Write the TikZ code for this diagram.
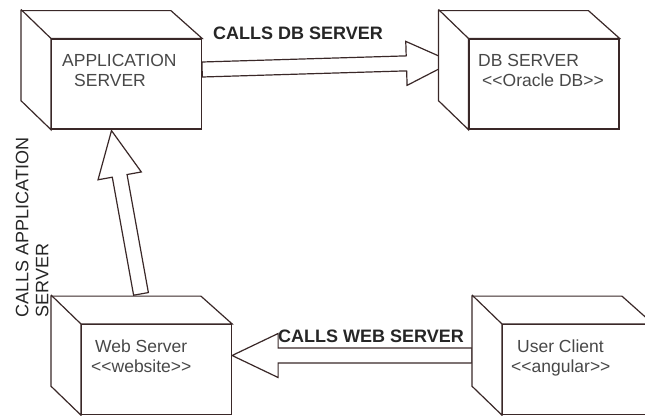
\documentclass[tikz,border=0pt]{standalone}
\usepackage{fontspec}
\setmainfont{Liberation Sans}
\usetikzlibrary{calc}

\definecolor{edgecol}{RGB}{58,40,40}
\definecolor{servertext}{RGB}{72,72,72}
\definecolor{calltext}{RGB}{38,38,38}

\pgfdeclarelayer{background}
\pgfsetlayers{background,main}

\tikzset{
	boxface/.style={draw=edgecol, fill=white, line width=1.2pt, minimum width=150pt, minimum height=90pt, inner sep=0pt},
	boxside/.style={draw=edgecol, fill=white, line width=1.2pt, line join=miter},
	srvtext/.style={text=servertext, inner sep=0pt, anchor=base west, font=\fontsize{17.5}{20}\selectfont},
	callname/.style={text=calltext, inner sep=0pt, anchor=base west, font=\fontsize{18}{20}\selectfont\bfseries},
	callshape/.style={draw=edgecol, fill=white, line width=1.2pt, line join=miter},
}

% hollow block arrow from #1 to #2
\newcommand{\callarrow}[2]{%
	\coordinate (s) at (#1);
	\coordinate (t) at (#2);
	\coordinate (h) at ($(t)!46pt!(s)$);
	\filldraw[callshape] ($(s)!7.5pt!90:(t)$) -- ($(h)!7.5pt!90:(t)$) -- ($(h)!22pt!90:(t)$) -- (t)
		-- ($(h)!22pt!-90:(t)$) -- ($(h)!7.5pt!-90:(t)$) -- ($(s)!7.5pt!-90:(t)$) -- cycle;
}
% top and left side of a server box
\newcommand{\serverback}[1]{%
	\filldraw[boxside] (#1.south west) -- ++(-30,-29) -- ++(0,-90) -- ++(150,0) -- (#1.north east) -- (#1.north west) -- cycle;
	\draw[boxside] (#1.north west) ++(-30,-29) -- (#1.north west);
}

\begin{document}
\begin{tikzpicture}[x=1pt, y=-1pt]
		\useasboundingbox (0,0) rectangle (645,415);

		\node[boxface] (app) at (126.5,84) {};
		\node[boxface] (db) at (544,84) {};
		\node[boxface] (web) at (156.5,369.5) {};
		\node[boxface] (user) at (577.5,369.5) {};
		\serverback{app}
		\serverback{db}
		\serverback{web}
		\serverback{user}

		\node[srvtext] (apptitle) at (62,66.5) {APPLICATION};
		\node[srvtext] (appkind) at (74,86.5) {SERVER};
		\node[srvtext] (dbtitle) at (478,66.5) {DB SERVER};
		\node[srvtext] (dbkind) at (482,86.5) {<\kern0pt<Oracle DB>\kern0pt>};
		\node[srvtext] (webtitle) at (95,352) {Web Server};
		\node[srvtext] (webkind) at (91,372) {<\kern0pt<website>\kern0pt>};
		\node[srvtext] (usertitle) at (517,352) {User Client};
		\node[srvtext] (userkind) at (511,372) {<\kern0pt<angular>\kern0pt>};

		\begin{pgfonlayer}{background}
			\fill[white] (0,0) rectangle (645,415);
			\callarrow{[yshift=14.5pt]app.east}{[xshift=-16pt, yshift=22pt]db.west}
			\callarrow{[xshift=-15.5pt, yshift=30pt]web.north}{[xshift=-15pt, yshift=-1pt]app.south}
			\callarrow{[xshift=-30pt, yshift=14pt]user.west}{[yshift=14pt]web.east}
		\end{pgfonlayer}

		\node[callname] (calldb) at (213,39.3) {CALLS DB SERVER};
		\node[callname] (callweb) at (278,342.7) {CALLS WEB SERVER};
		\node[callname, font=\fontsize{18}{20}\selectfont, rotate=90, anchor=north west, align=left] (callapp) at (15.5,317.5) {CALLS APPLICATION\\SERVER};
	\end{tikzpicture}
\end{document}
